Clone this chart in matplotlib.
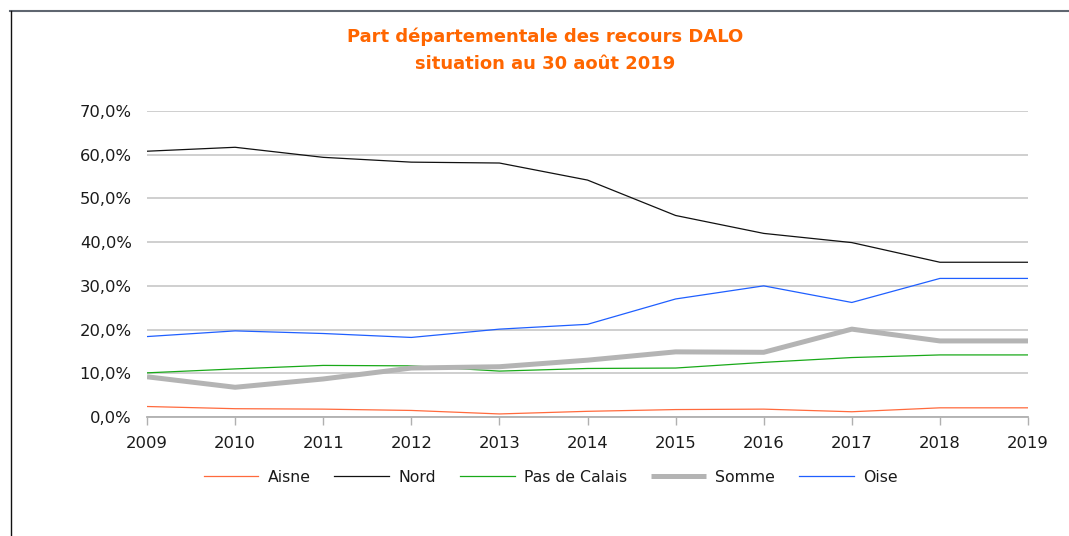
import matplotlib
matplotlib.use("Agg")
import matplotlib.pyplot as plt
from matplotlib.ticker import FuncFormatter

# données (part en %)
annees = [2009, 2010, 2011, 2012, 2013, 2014, 2015, 2016, 2017, 2018, 2019]
aisne = [2.4, 1.9, 1.8, 1.5, 0.7, 1.3, 1.7, 1.8, 1.2, 2.1, 2.1]
nord = [60.8, 61.7, 59.4, 58.3, 58.1, 54.2, 46.1, 42.0, 39.9, 35.4, 35.4]
pas_de_calais = [10.1, 11.0, 11.8, 11.7, 10.5, 11.1, 11.2, 12.5, 13.6, 14.2, 14.2]
somme = [9.2, 6.8, 8.7, 11.2, 11.5, 13.0, 14.9, 14.8, 20.1, 17.4, 17.4]
oise = [18.4, 19.7, 19.1, 18.2, 20.1, 21.2, 27.0, 30.0, 26.2, 31.7, 31.7]

plt.rcParams['font.family'] = ['DejaVu Sans']

fig = plt.figure(figsize=(10.69, 5.36), dpi=100)
ax = fig.add_axes([147 / 1069, 1 - 417 / 536, (1028 - 147) / 1069, (417 - 111) / 536])

ax.plot(annees, aisne, color='#ff6a3d', lw=0.9, label='Aisne')
ax.plot(annees, nord, color='#111111', lw=0.9, label='Nord')
ax.plot(annees, pas_de_calais, color='#19a919', lw=0.9, label='Pas de Calais')
ax.plot(annees, somme, color='#b4b4b4', lw=3.6, label='Somme', solid_capstyle='butt')
ax.plot(annees, oise, color='#1f5fff', lw=0.9, label='Oise')

ax.set_xlim(2009, 2019)
ax.set_ylim(0, 70)
ax.set_xticks(annees)
ax.set_yticks(range(0, 71, 10))
ax.yaxis.set_major_formatter(FuncFormatter(lambda v, p: f"{v:.1f}".replace('.', ',') + '%'))
ax.grid(axis='y', color='#cccccc', lw=1.3)
ax.set_axisbelow(True)
for s in ['top', 'right', 'left']:
    ax.spines[s].set_visible(False)
ax.spines['bottom'].set_color('#b0b0b0')
ax.spines['bottom'].set_linewidth(1.3)
ax.tick_params(axis='y', length=0, pad=11, labelsize=11.8, labelcolor='#1a1a1a')
ax.tick_params(axis='x', length=6, width=1, color='#b0b0b0', pad=8, labelsize=11.8, labelcolor='#1a1a1a')

fig.text(0.51, 1 - 37 / 536, 'Part départementale des recours DALO', color='#ff6600',
         fontsize=13, fontweight='bold', ha='center', va='center')
fig.text(0.51, 1 - 64 / 536, 'situation au 30 août 2019', color='#ff6600',
         fontsize=13, fontweight='bold', ha='center', va='center')

fig.legend(loc='center', bbox_to_anchor=(0.515, 1 - 477 / 536), ncol=5, frameon=False,
           fontsize=11.3, handlelength=3.5, columnspacing=1.5, handletextpad=0.6,
           labelcolor='#1a1a1a')

# cadre partiel (haut et gauche)
fig.add_artist(plt.Line2D([10 / 1069, 1], [1 - 11 / 536, 1 - 11 / 536], color='#5f6670', lw=1.5))
fig.add_artist(plt.Line2D([11 / 1069, 11 / 1069], [0, 1 - 11 / 536], color='#111111', lw=1.0))

fig.savefig('out.png', dpi=100)
